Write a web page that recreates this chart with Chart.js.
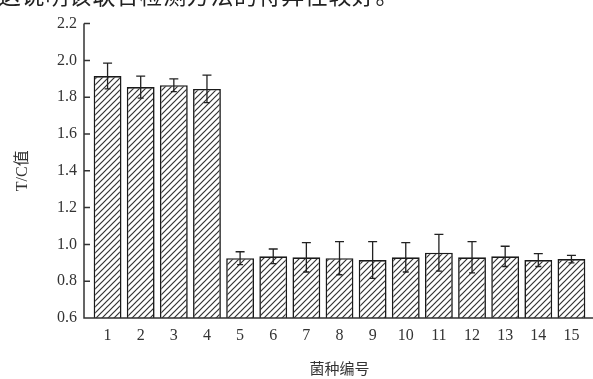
<!DOCTYPE html>
<html lang="zh">
<head>
    <meta charset="UTF-8">
    <title>T/C值</title>
    <script src="https://cdn.jsdelivr.net/npm/chart.js@4/dist/chart.umd.min.js"></script>
    <style>
        body {margin: 0; background: #fff; overflow: hidden}
        #wrap {position: relative; width: 593px; height: 379px; overflow: hidden}
        #note {position: absolute; left: -2px; top: -23px; font-family: "Noto Sans CJK SC", sans-serif;
               font-size: 23px; color: #222; letter-spacing: 0.6px; white-space: nowrap}
    </style>
</head>
<body>
<div id="wrap">
    <canvas id="chart"></canvas>
    <div id="note">这说明该联合检测方法的特异性较好。</div>
</div>
<script>
    const categories = ['1', '2', '3', '4', '5', '6', '7', '8', '9', '10', '11', '12', '13', '14', '15'];
    const tcValues = [1.915, 1.855, 1.865, 1.845, 0.925, 0.935, 0.93, 0.925, 0.915, 0.93, 0.955, 0.93, 0.935, 0.915, 0.92];
    const tcErrors = [0.07, 0.06, 0.035, 0.075, 0.035, 0.04, 0.08, 0.09, 0.1, 0.08, 0.1, 0.085, 0.055, 0.035, 0.02];
    const yMin = 0.6, yMax = 2.2, yStep = 0.2;

    // diagonal hatch fill
    function hatch() {
        const c = document.createElement('canvas');
        c.width = 6; c.height = 6;
        const g = c.getContext('2d');
        g.fillStyle = '#fff';
        g.fillRect(0, 0, 6, 6);
        g.strokeStyle = '#333';
        g.lineWidth = 1.2;
        g.beginPath();
        g.moveTo(-1, 7); g.lineTo(7, -1);
        g.moveTo(-4, 4); g.lineTo(4, -4);
        g.moveTo(2, 10); g.lineTo(10, 2);
        g.stroke();
        return g.createPattern(c, 'repeat');
    }

    const serif = '"Liberation Serif", "Noto Sans CJK SC", serif';

    const axesAndErrors = {
        id: 'axesAndErrors',
        afterDatasetsDraw(chart) {
            const ctx = chart.ctx;
            const y = chart.scales.y;
            const meta = chart.getDatasetMeta(0);
            ctx.save();
            ctx.strokeStyle = '#222';
            ctx.lineWidth = 1.3;
            meta.data.forEach((bar, i) => {
                const hi = y.getPixelForValue(tcValues[i] + tcErrors[i]);
                const lo = y.getPixelForValue(tcValues[i] - tcErrors[i]);
                ctx.beginPath();
                ctx.moveTo(bar.x, hi); ctx.lineTo(bar.x, lo);
                ctx.moveTo(bar.x - 4.5, hi); ctx.lineTo(bar.x + 4.5, hi);
                ctx.moveTo(bar.x - 3, lo); ctx.lineTo(bar.x + 3, lo);
                ctx.stroke();
            });
            // axis lines
            const ax = 84;
            ctx.strokeStyle = '#333';
            ctx.lineWidth = 1.5;
            ctx.beginPath();
            ctx.moveTo(ax, y.getPixelForValue(yMax));
            ctx.lineTo(ax, y.getPixelForValue(yMin));
            ctx.lineTo(593, y.getPixelForValue(yMin));
            y.ticks.forEach(t => {
                const py = y.getPixelForValue(t.value);
                ctx.moveTo(ax, py); ctx.lineTo(ax + 6, py);
            });
            ctx.stroke();
            ctx.restore();
        }
    };

    new Chart(document.getElementById('chart'), {
        type: 'bar',
        data: {
            labels: categories,
            datasets: [{
                data: tcValues,
                base: yMin,
                backgroundColor: hatch(),
                borderColor: '#1a1a1a',
                borderWidth: 1.6,
                borderSkipped: 'start',
                categoryPercentage: 1,
                barPercentage: 0.84
            }]
        },
        options: {
            responsive: true,
            maintainAspectRatio: false,
            animation: false,
            layout: {padding: {top: 22, right: 5, left: 0, bottom: 0}},
            plugins: {legend: {display: false}, tooltip: {enabled: false}},
            scales: {
                x: {
                    grid: {display: false, drawTicks: false},
                    border: {display: false},
                    ticks: {color: '#333', padding: 8, font: {family: serif, size: 16}},
                    title: {display: true, text: '菌种编号', color: '#333', padding: {top: 2, bottom: 2},
                            font: {family: '"Noto Sans CJK SC", sans-serif', size: 15}},
                    afterFit(s) { s.height = 61; }
                },
                y: {
                    min: yMin,
                    max: yMax,
                    grid: {display: false, drawTicks: false},
                    border: {display: false},
                    ticks: {stepSize: yStep, color: '#333', padding: 14,
                            font: {family: serif, size: 16},
                            callback: v => v.toFixed(1)},
                    title: {display: true, text: 'T/C值', color: '#333', padding: {top: 13, bottom: 0},
                            font: {family: serif, size: 16}},
                    afterFit(s) { s.width = 91; }
                }
            }
        },
        plugins: [axesAndErrors]
    });
</script>
</body>
</html>
